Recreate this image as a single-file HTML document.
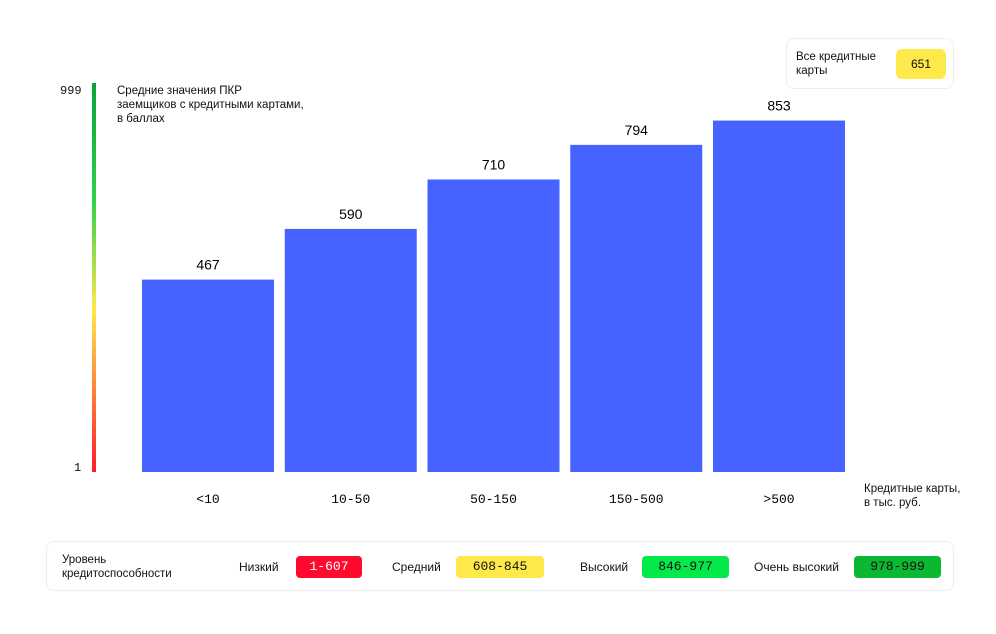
<!DOCTYPE html>
<html><head><meta charset="utf-8"><style>
body{margin:0;width:996px;height:634px;background:#fff;font-family:"Liberation Sans",sans-serif;position:relative;overflow:hidden;color:#111}
.a{position:absolute}
.pill{position:absolute;height:22px;border-radius:4px;font-family:"Liberation Mono",monospace;font-size:13px;line-height:22px;text-align:center;color:#111}
.lbl{position:absolute;font-size:12px}
</style></head><body>
<div class="a" style="left:786px;top:38px;width:168px;height:51px;border:1px solid #eee;border-radius:8px;box-sizing:border-box"></div>
<div class="lbl" style="left:796px;top:50px;line-height:14px;font-size:11.5px">Все кредитные<br>карты</div>
<div class="pill" style="left:896px;top:49px;width:50px;height:30px;line-height:30px;background:#ffe84a;border-radius:6px;font-family:'Liberation Sans',sans-serif;font-size:12px">651</div>
<div class="a" style="left:92px;top:83px;width:4px;height:389px;background:linear-gradient(#0aa33a,#2ed14a 30%,#ffe84a 58%,#ff1a2a)"></div>
<div class="lbl" style="left:60px;top:84px;font-family:'Liberation Mono',monospace">999</div>
<div class="lbl" style="left:74px;top:461px;font-family:'Liberation Mono',monospace">1</div>
<div class="lbl" style="left:117px;top:84px;line-height:14px;font-size:11.5px">Средние значения ПКР<br>заемщиков с кредитными картами,<br>в баллах</div>
<div class="lbl" style="left:864px;top:482px;line-height:14px;font-size:11.5px">Кредитные карты,<br>в тыс. руб.</div>
<svg class="a" style="left:0;top:0" width="996" height="634" id="chart"></svg>
<div class="a" style="left:46px;top:541px;width:908px;height:50px;border:1px solid #eee;border-radius:8px;box-sizing:border-box"></div>
<div class="lbl" style="left:62px;top:553px;line-height:14px;font-size:11.5px">Уровень<br>кредитоспособности</div>
<div class="lbl" style="left:239px;top:560px">Низкий</div>
<div class="pill" style="left:296px;top:556px;width:66px;background:#ff0a2e;color:#fff">1-607</div>
<div class="lbl" style="left:392px;top:560px">Средний</div>
<div class="pill" style="left:456px;top:556px;width:88px;background:#ffe84a">608-845</div>
<div class="lbl" style="left:580px;top:560px">Высокий</div>
<div class="pill" style="left:642px;top:556px;width:87px;background:#05e84a">846-977</div>
<div class="lbl" style="left:754px;top:560px">Очень высокий</div>
<div class="pill" style="left:854px;top:556px;width:87px;background:#0ab832">978-999</div>
<script>
const categories=["<10","10-50","50-150","150-500",">500"];
const values=[467,590,710,794,853];
const svg=document.getElementById('chart');const NS="http://www.w3.org/2000/svg";
const base=472,scale=0.412,x0=142,step=142.75,bw=132;
const yPos=v=>base-v*scale;
categories.forEach((c,i)=>{
 const x=x0+i*step,y=yPos(values[i]);
 const r=document.createElementNS(NS,'rect');
 
 
 r.setAttribute('x',x);r.setAttribute('y',y);r.setAttribute('width',bw);r.setAttribute('height',base-y);r.setAttribute('fill','#4763ff');svg.appendChild(r);
 const t=document.createElementNS(NS,'text');
 
 
 t.setAttribute('x',x+bw/2);t.setAttribute('y',y-10);t.setAttribute('text-anchor','middle');t.setAttribute('font-size','14');t.setAttribute('font-family','Liberation Sans, sans-serif');t.textContent=values[i];svg.appendChild(t);
 const l=document.createElementNS(NS,'text');
 
 
 l.setAttribute('x',x+bw/2);l.setAttribute('y',503);l.setAttribute('text-anchor','middle');l.setAttribute('font-size','13');l.setAttribute('font-family','Liberation Mono, monospace');l.textContent=c;svg.appendChild(l);
});
</script>
</body></html>
